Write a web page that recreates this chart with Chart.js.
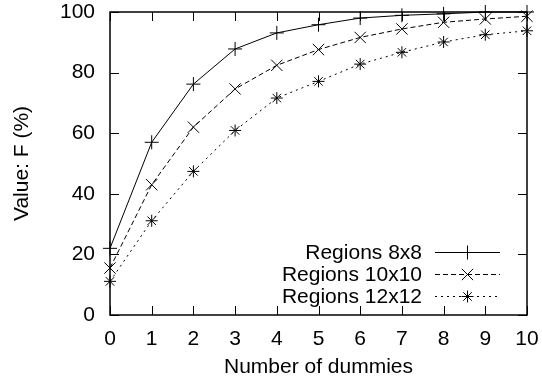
<!DOCTYPE html>
<html>
<head>
<meta charset="utf-8">
<script src="https://cdn.jsdelivr.net/npm/chart.js@4"></script>
<style>
  html, body { margin: 0; padding: 0; background: #fff; }
  #wrap { width: 542px; height: 388px; }
</style>
</head>
<body>
<div id="wrap"><canvas id="chart" width="542" height="388"></canvas></div>
<script>
// data
const dummies = [0, 1, 2, 3, 4, 5, 6, 7, 8, 9, 10];
const regions8 = [22, 57, 76.2, 87.8, 93.1, 95.8, 98, 98.9, 99.4, 100, 100];
const regions10 = [15.5, 43, 62, 74.6, 82.4, 87.6, 91.6, 94.4, 96.6, 97.7, 98.6];
const regions12 = [11.1, 31.1, 47.4, 60.9, 71.6, 77.1, 82.8, 86.7, 90.1, 92.5, 93.8];
const seriesLabels = ["Regions 8x8", "Regions 10x10", "Regions 12x12"];

const FONT = "'Liberation Sans', Arial, sans-serif";
const FONT_SIZE = 21;

function points(vals) {
  return dummies.map((d, i) => ({ x: d, y: vals[i] }));
}

// draw one gnuplot-like marker
function marker(ctx, style, r, x, y) {
  ctx.beginPath();
  if (style === "cross" || style === "star") {
    ctx.moveTo(x - r, y); ctx.lineTo(x + r, y);
    ctx.moveTo(x, y - r); ctx.lineTo(x, y + r);
  }
  if (style === "crossRot" || style === "star") {
    const d = r * Math.SQRT1_2;
    ctx.moveTo(x - d, y - d); ctx.lineTo(x + d, y + d);
    ctx.moveTo(x - d, y + d); ctx.lineTo(x + d, y - d);
  }
  ctx.stroke();
}

// frame with inward ticks on all four sides
const framePlugin = {
  id: "frame",
  beforeDatasetsDraw(chart) {
    const { ctx, chartArea: a, scales } = chart;
    const len = 9;
    ctx.save();
    ctx.strokeStyle = "#000";
    ctx.lineWidth = 1;
    ctx.beginPath();
    scales.x.ticks.forEach(t => {
      const px = Math.round(scales.x.getPixelForValue(t.value)) + 0.5;
      ctx.moveTo(px, a.bottom); ctx.lineTo(px, a.bottom - len);
      ctx.moveTo(px, a.top); ctx.lineTo(px, a.top + len);
    });
    scales.y.ticks.forEach(t => {
      const py = Math.round(scales.y.getPixelForValue(t.value)) + 0.5;
      ctx.moveTo(a.left, py); ctx.lineTo(a.left + len, py);
      ctx.moveTo(a.right, py); ctx.lineTo(a.right - len, py);
    });
    ctx.stroke();
    ctx.lineWidth = 1.5;
    ctx.strokeRect(a.left, a.top, a.right - a.left, a.bottom - a.top);
    ctx.restore();
  }
};

// legend at lower right, text right aligned and the sample to its right
const keyPlugin = {
  id: "key",
  afterDraw(chart) {
    const { ctx } = chart;
    const textRight = 422, lineL = 435, lineR = 500, rowTop = 252, rowStep = 22;
    ctx.save();
    ctx.font = FONT_SIZE + "px " + FONT;
    ctx.fillStyle = "#000";
    ctx.textAlign = "right";
    ctx.textBaseline = "middle";
    chart.data.datasets.forEach((ds, i) => {
      const y = rowTop + i * rowStep;
      ctx.fillText(ds.label, textRight, y + 1);
      ctx.strokeStyle = "#000";
      ctx.lineWidth = 1;
      ctx.setLineDash(ds.borderDash || []);
      ctx.beginPath();
      ctx.moveTo(lineL, y + 0.5); ctx.lineTo(lineR, y + 0.5);
      ctx.stroke();
      ctx.setLineDash([]);
      marker(ctx, ds.pointStyle, ds.pointRadius, (lineL + lineR) / 2, y + 0.5);
    });
    ctx.restore();
  }
};

function series(label, vals, dash, style, radius) {
  return {
    label: label,
    data: points(vals),
    borderColor: "#000",
    borderWidth: 1,
    borderDash: dash,
    pointStyle: style,
    pointRadius: radius,
    pointHoverRadius: radius,
    pointBorderColor: "#000",
    pointBorderWidth: 1,
    pointBackgroundColor: "#000",
    fill: false,
    tension: 0,
    clip: false
  };
}

const ctx = document.getElementById("chart").getContext("2d");
const chart = new Chart(ctx, {
  type: "line",
  data: {
    datasets: [
      series(seriesLabels[0], regions8, [], "cross", 7),
      series(seriesLabels[1], regions10, [5, 3], "crossRot", 8),
      series(seriesLabels[2], regions12, [2, 4], "star", 6)
    ]
  },
  options: {
    responsive: false,
    animation: false,
    layout: { padding: { left: 0, right: 15, top: 12, bottom: 0 } },
    scales: {
      x: {
        type: "linear",
        min: 0,
        max: 10,
        grid: { display: false, drawTicks: false },
        border: { display: false },
        ticks: {
          stepSize: 1,
          padding: 12,
          color: "#000",
          font: { family: FONT, size: FONT_SIZE }
        },
        title: {
          display: true,
          text: "Number of dummies",
          color: "#000",
          padding: { top: 0, bottom: 8 },
          font: { family: FONT, size: FONT_SIZE }
        },
        afterFit(scale) {
          scale.height = 73;
          // keep label overhang from pushing the plot inward
          scale.paddingLeft = 0;
          scale.paddingRight = 0;
        }
      },
      y: {
        min: 0,
        max: 100,
        grid: { display: false, drawTicks: false },
        border: { display: false },
        ticks: {
          stepSize: 20,
          padding: 15,
          color: "#000",
          font: { family: FONT, size: FONT_SIZE }
        },
        title: {
          display: true,
          text: "Value: F (%)",
          color: "#000",
          padding: { top: 10, bottom: 0 },
          font: { family: FONT, size: FONT_SIZE }
        },
        afterFit(scale) {
          scale.width = 110;
          scale.paddingTop = 0;
          scale.paddingBottom = 0;
        }
      }
    },
    plugins: {
      legend: { display: false },
      tooltip: { enabled: false }
    }
  },
  plugins: [framePlugin, keyPlugin],
});
</script>
</body>
</html>
